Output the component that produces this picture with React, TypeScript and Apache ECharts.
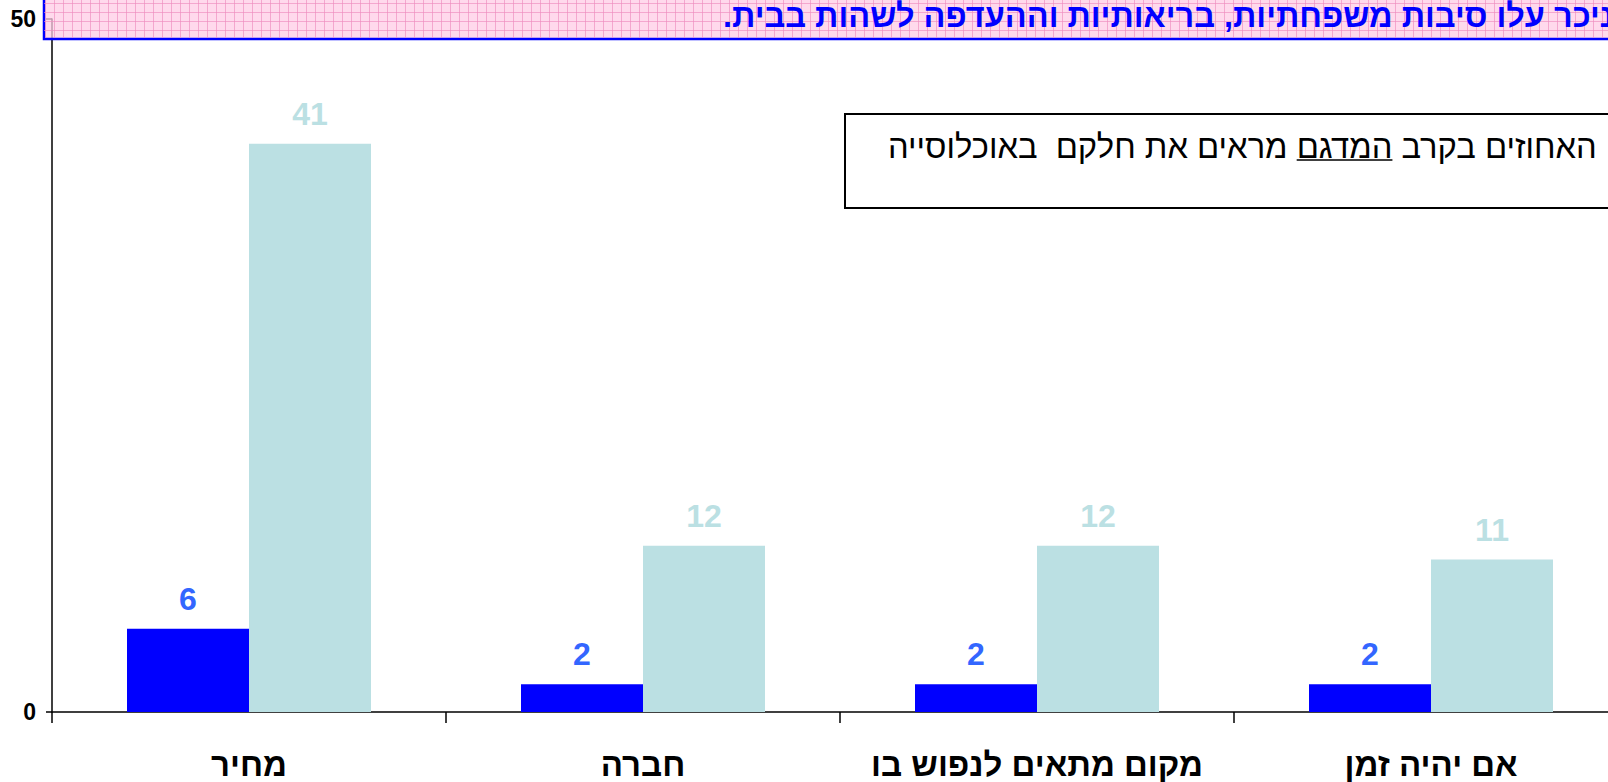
import React, { useEffect, useRef } from "react";
import * as echarts from "echarts";

const categories = ["מחיר", "חברה", "מקום מתאים לנפוש בו", "אם יהיה זמן"];
const sampleValues = [6, 2, 2, 2];
const populationValues = [41, 12, 12, 11];
const yMin = 0;
const yMax = 50;
const bannerText = "ניכר עלו סיבות משפחתיות, בריאותיות וההעדפה לשהות בבית.";
const noteBefore = "האחוזים בקרב ";
const noteUnder = "המדגם";
const noteAfter = " מראים את חלקם\u00A0 באוכלוסייה";

const FONT = "'Liberation Sans', Arial, sans-serif";

function measure(text: string, weight: string, size: number) {
  const ctx = document.createElement("canvas").getContext("2d")!;
  ctx.font = `${weight} ${size}px ${FONT}`;
  return ctx.measureText(text).width;
}
function fit(text: string, weight: string, target: number) {
  return (100 * target) / measure(text, weight, 100);
}

export default function App() {
  const ref = useRef<HTMLDivElement>(null);
  useEffect(() => {
    if (!ref.current) return;
    const chart = echarts.init(ref.current, undefined, { renderer: "svg" });

    const bannerSize = fit(bannerText, "bold", 891);
    const noteFull = noteBefore + noteUnder + noteAfter;
    const noteSize = fit(noteFull, "normal", 709);

    const noteX = 888;
    const noteW = measure(noteFull, "normal", noteSize);
    const uRight = noteX + noteW - measure(noteBefore, "normal", noteSize);
    const uLeft = uRight - measure(noteUnder, "normal", noteSize);

    const gridLines: any[] = [];
    for (let x = 45; x < 1608; x += 9) {
      gridLines.push({
        type: "line",
        z: 100,
        shape: { x1: x + 0.5, y1: 0, x2: x + 0.5, y2: 38 },
        style: { stroke: "rgba(238,140,190,0.65)", lineWidth: 1 },
      });
    }
    for (let y = 3; y < 38; y += 9) {
      gridLines.push({
        type: "line",
        z: 100,
        shape: { x1: 44, y1: y + 0.5, x2: 1608, y2: y + 0.5 },
        style: { stroke: "rgba(238,140,190,0.65)", lineWidth: 1 },
      });
    }

    chart.setOption({
      animation: false,
      backgroundColor: "#ffffff",
      grid: {
        left: 52,
        top: 19,
        width: 1576,
        bottom: 70,
        containLabel: false,
        outerBoundsMode: "none",
      },
      xAxis: {
        type: "category",
        data: categories,
        axisLine: { show: true, lineStyle: { color: "#000", width: 1.5 } },
        axisTick: { show: true, length: 11, lineStyle: { color: "#000", width: 1.5 } },
        axisLabel: {
          interval: 0,
          margin: 37,
          color: "#000",
          fontSize: 33,
          lineHeight: 30,
          fontWeight: "bold",
          fontFamily: FONT,
        },
      },
      yAxis: {
        type: "value",
        min: yMin,
        max: yMax,
        interval: 50,
        splitLine: { show: false },
        axisLine: { show: true, lineStyle: { color: "#000", width: 1.5 } },
        axisTick: { show: true, length: 6, lineStyle: { color: "#000", width: 1.5 } },
        axisLabel: {
          margin: 16,
          color: "#000",
          fontSize: 23,
          fontWeight: "bold",
          fontFamily: FONT,
        },
      },
      series: [
        {
          name: "מדגם",
          type: "bar",
          data: sampleValues,
          barWidth: 122,
          barGap: "0%",
          itemStyle: { color: "#0000FF" },
          label: {
            show: true,
            position: "top",
            distance: 14,
            color: "#3366FF",
            fontSize: 32,
            fontWeight: "bold",
            fontFamily: FONT,
          },
        },
        {
          name: "אוכלוסייה",
          type: "bar",
          data: populationValues,
          barWidth: 122,
          barGap: "0%",
          itemStyle: { color: "#BBE0E3" },
          label: {
            show: true,
            position: "top",
            distance: 14,
            color: "#BBE0E3",
            fontSize: 32,
            fontWeight: "bold",
            fontFamily: FONT,
          },
        },
      ],
      graphic: [
        {
          type: "rect",
          z: 99,
          shape: { x: 44, y: -4, width: 1600, height: 43 },
          style: { fill: "rgba(255,204,229,0.75)", stroke: "#0000FF", lineWidth: 2.5 },
        },
        ...gridLines,
        {
          type: "text",
          z: 101,
          x: 723,
          y: 16,
          style: {
            text: bannerText + "\u200F",
            fontSize: bannerSize,
            fontWeight: "bold",
            fontFamily: FONT,
            fill: "#0000FF",
            align: "left",
            verticalAlign: "middle",
          },
        },
        {
          type: "rect",
          z: 50,
          shape: { x: 845, y: 114, width: 800, height: 94 },
          style: { fill: "#ffffff", stroke: "#000", lineWidth: 2 },
        },
        {
          type: "text",
          z: 51,
          x: noteX,
          y: 146,
          style: {
            text: noteFull,
            fontSize: noteSize,
            fontFamily: FONT,
            fill: "#000",
            align: "left",
            verticalAlign: "middle",
          },
        },
        {
          type: "line",
          z: 51,
          shape: { x1: uLeft, y1: 160, x2: uRight, y2: 160 },
          style: { stroke: "#000", lineWidth: 1.5 },
        },
      ],
    });
    return () => chart.dispose();
  }, []);
  return (
    <div
      ref={ref}
      style={{ position: "fixed", left: 0, top: 0, width: 1608, height: 782 }}
    />
  );
}
